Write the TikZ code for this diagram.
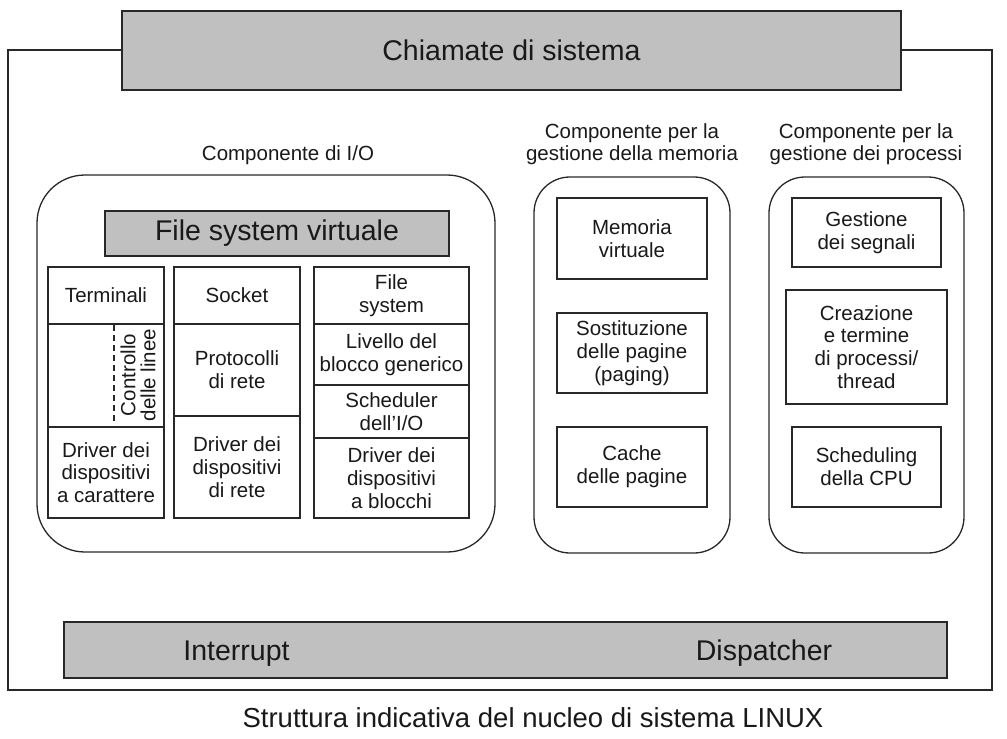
\documentclass[tikz,border=0pt]{standalone}
\usepackage{fontspec}
\setmainfont{Liberation Sans}
\definecolor{boxgray}{RGB}{192,192,192}
\definecolor{edge}{RGB}{40,40,40}
\definecolor{txt}{RGB}{25,25,25}
\begin{document}
\begin{tikzpicture}[x=1pt,y=-1pt,
  cell/.style={draw=edge, line width=1.3pt, fill=white, inner sep=0pt, align=center,
    text=txt, font=\fontsize{20.5}{22.8}\selectfont},
  graybox/.style={draw=edge, line width=1.5pt, fill=boxgray, inner sep=0pt, align=center,
    text=txt, font=\fontsize{28.5}{32}\selectfont},
  group/.style={draw=edge, line width=1.3pt, rounded corners=#1},
  lbl/.style={align=center, inner sep=0pt, text=txt, font=\fontsize{20.5}{22.5}\selectfont},
  big/.style={inner sep=0pt, text=txt, font=\fontsize{28.5}{32}\selectfont}
]
\useasboundingbox (0,0) rectangle (1007,739);

% outer frame
\draw[draw=edge, line width=1.5pt] (8,50) rectangle (992,690);

% system calls
\node[graybox, minimum width=779pt, minimum height=79pt] (calls) at (511.5,50.5) {Chiamate di sistema};

% bottom bar
\node[graybox, minimum width=883pt, minimum height=56pt] (bottom) at (505.5,650) {};
\node[big, anchor=base] (interrupt) at (236.5,660) {Interrupt};
\node[big, anchor=base] (dispatcher) at (764,660) {Dispatcher};

% caption
\node[big, anchor=base, font=\fontsize{27.5}{30}\selectfont] (caption) at (533,727) {Struttura indicativa del nucleo di sistema LINUX};

% I/O component
\node[lbl] (iolbl) at (288,155) {Componente di I/O};
\draw[group=48pt] (37,175) rectangle (495,552);
\node[graybox, minimum width=344pt, minimum height=45pt] (vfs) at (277,233.5) {File system virtuale};

% column 1
\node[cell, minimum width=116pt, minimum height=57pt] (term) at (106,295.5) {Terminali};
\node[cell, minimum width=116pt, minimum height=103pt] (ctrl) at (106,375.5) {};
\node[cell, minimum width=116pt, minimum height=91pt] (drvc) at (106,472.5) {Driver dei\\dispositivi\\a carattere};
\coordinate (dashtop) at (114,325);
\coordinate (dashbot) at (114,424);
\draw[draw=edge, line width=1.3pt, dash pattern=on 6pt off 4pt] (dashtop) -- (dashbot);
\node[lbl, rotate=90, font=\fontsize{20.5}{20}\selectfont] (ctrllbl) at (138,375) {Controllo\\delle linee};

% column 2
\node[cell, minimum width=126pt, minimum height=57pt] (socket) at (237,295.5) {Socket};
\node[cell, minimum width=126pt, minimum height=92pt] (proto) at (237,370) {Protocolli\\di rete};
\node[cell, minimum width=126pt, minimum height=102pt] (drvn) at (237,467) {Driver dei\\dispositivi\\di rete};

% column 3
\node[cell, minimum width=155pt, minimum height=57pt] (fs) at (391.5,295.5) {File\\system};
\node[cell, minimum width=155pt, minimum height=61pt] (blk) at (391.5,354.5) {Livello del\\blocco generico};
\node[cell, minimum width=155pt, minimum height=53pt] (iosch) at (391.5,411.5) {Scheduler\\dell’I/O};
\node[cell, minimum width=155pt, minimum height=80pt] (drvb) at (391.5,478) {Driver dei\\dispositivi\\a blocchi};

% memory component
\node[lbl] (memlbl) at (632,144) {Componente per la\\gestione della memoria};
\draw[group=36pt] (534,177) rectangle (730,553);
\node[cell, minimum width=150pt, minimum height=81pt] (vm) at (632,238.5) {Memoria\\virtuale};
\node[cell, minimum width=150pt, minimum height=80pt] (paging) at (632,353) {Sostituzione\\delle pagine\\(paging)};
\node[cell, minimum width=150pt, minimum height=80pt] (pcache) at (632,467) {Cache\\delle pagine};

% process component
\node[lbl] (proclbl) at (866,144) {Componente per la\\gestione dei processi};
\draw[group=36pt] (769,177) rectangle (964,553);
\node[cell, minimum width=149pt, minimum height=69pt] (sig) at (866.5,232.5) {Gestione\\dei segnali};
\node[cell, minimum width=161pt, minimum height=114pt] (create) at (866.5,347) {Creazione\\e termine\\di processi/\\thread};
\node[cell, minimum width=149pt, minimum height=80pt] (cpu) at (866.5,467) {Scheduling\\della CPU};
\end{tikzpicture}
\end{document}
